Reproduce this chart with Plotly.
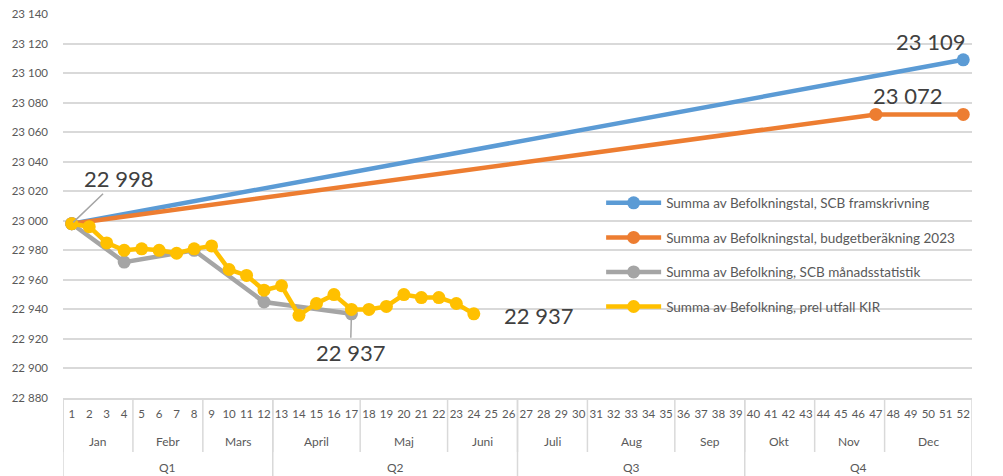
import plotly.graph_objects as go

weeks = list(range(1, 53))
week_labels = [str(w) for w in weeks]

months = ["Jan", "Febr", "Mars", "April", "Maj", "Juni", "Juli", "Aug", "Sep", "Okt", "Nov", "Dec"]
month_start = [1, 5, 9, 13, 18, 23, 27, 31, 36, 40, 44, 48]
month_end = [4, 8, 12, 17, 22, 26, 30, 35, 39, 43, 47, 52]

quarters = ["Q1", "Q2", "Q3", "Q4"]
quarter_start = [1, 13, 27, 40]
quarter_end = [12, 26, 39, 52]

scb_fram_x = [1, 52]
scb_fram_y = [22998, 23109]

budget_x = [1, 47, 52]
budget_y = [22998, 23072, 23072]

scb_man_x = [1, 4, 8, 12, 17]
scb_man_y = [22998, 22972, 22980, 22945, 22937]

kir_x = list(range(1, 25))
kir_y = [22998, 22996, 22985, 22980, 22981, 22980, 22978, 22981, 22983, 22967,
         22963, 22953, 22956, 22936, 22944, 22950, 22940, 22940, 22942, 22950,
         22948, 22948, 22944, 22937]

names = ["Summa av Befolkningstal, SCB framskrivning",
         "Summa av Befolkningstal, budgetberäkning 2023",
         "Summa av Befolkning, SCB månadsstatistik",
         "Summa av Befolkning, prel utfall KIR"]
colors = ["#5B9BD5", "#ED7D31", "#A5A5A5", "#FFC000"]

FONT = "Lato"
TXT = "#595959"
GRID = "#D9D9D9"

fig = go.Figure()
series = [(scb_fram_x, scb_fram_y), (budget_x, budget_y), (scb_man_x, scb_man_y), (kir_x, kir_y)]
for i, ((xs, ys), nm, c) in enumerate(zip(series, names, colors)):
    fig.add_trace(go.Scatter(
        x=xs, y=ys, name=nm, mode="lines+markers",
        line=dict(color=c, width=4.5),
        marker=dict(color=c, size=13),
        legendgroup=str(i),
    ))

# Data labels
def lab(x, y, text, **kw):
    d = dict(x=x, y=y, xref="x", yref="y", text=text,
             font=dict(family=FONT, size=22, color="#404040"))
    d.update(kw)
    fig.add_annotation(**d)

lab(1, 22998, "22 998", showarrow=True, arrowhead=0, arrowwidth=1.5, arrowcolor="#A5A5A5",
    ax=47, ay=-45, standoff=2)
lab(17, 22937, "22 937", showarrow=True, arrowhead=0, arrowwidth=1.5, arrowcolor="#A5A5A5",
    ax=-1, ay=39, standoff=5)
lab(24, 22937, "22 937", showarrow=False, xanchor="left", xshift=28, yshift=-2)
lab(52, 23109, "23 109", showarrow=False, xshift=-33, yshift=18)
lab(47, 23072, "23 072", showarrow=False, xshift=32, yshift=19)

# Category table below the axis (page coords: plot bottom at 398, page bottom 476)
plot_h = 384
def py(pix):
    return -(pix - 398) / plot_h

bottom = py(476)
month_bottom = py(452)
for s, e in zip(month_start, month_end):
    fig.add_shape(type="line", xref="x", yref="paper", x0=s - 0.5, x1=s - 0.5,
                  y0=0, y1=month_bottom, line=dict(color=GRID, width=1.5))
for s in quarter_start + [53]:
    fig.add_shape(type="line", xref="x", yref="paper", x0=s - 0.5, x1=s - 0.5,
                  y0=0, y1=bottom, line=dict(color=GRID, width=1.5))
for m, s, e in zip(months, month_start, month_end):
    fig.add_annotation(x=(s + e) / 2, y=py(441), xref="x", yref="paper", text=m,
                       yanchor="middle", xanchor="center",
                       showarrow=False, font=dict(family=FONT, size=12, color=TXT))
for q, s, e in zip(quarters, quarter_start, quarter_end):
    fig.add_annotation(x=(s + e) / 2, y=py(467), xref="x", yref="paper", text=q,
                       yanchor="middle", xanchor="center",
                       showarrow=False, font=dict(family=FONT, size=12, color=TXT))

# Page body has an 8px default margin, so size the figure to end at 1003x476
fig.update_layout(
    width=995, height=468,
    margin=dict(l=55, r=31, t=6, b=78),
    paper_bgcolor="white", plot_bgcolor="white",
    separators=", ",
    font=dict(family=FONT, color=TXT),
    legend=dict(x=0.592, y=0.548, xanchor="left", yanchor="top",
                bgcolor="rgba(0,0,0,0)", font=dict(family=FONT, size=13.5, color=TXT),
                tracegroupgap=14, traceorder="grouped", itemwidth=55),
    showlegend=True,
)
fig.update_xaxes(range=[0.5, 52.5], tickmode="array", tickvals=weeks, ticktext=week_labels,
                 showgrid=False, zeroline=False, showline=True, linecolor=GRID, linewidth=1.5,
                 ticks="", tickfont=dict(family=FONT, size=11.5, color=TXT), tickangle=0,
                 ticklabelstandoff=4, automargin=False)
fig.update_yaxes(range=[22880, 23140], dtick=20, tick0=22880, tickformat=",d",
                 showgrid=True, gridcolor=GRID, gridwidth=1.5, zeroline=False,
                 showline=False, ticks="", tickfont=dict(family=FONT, size=11.5, color=TXT),
                 ticklabelstandoff=14, automargin=False, ticklabeloverflow="allow")

fig.write_html("out.html")
